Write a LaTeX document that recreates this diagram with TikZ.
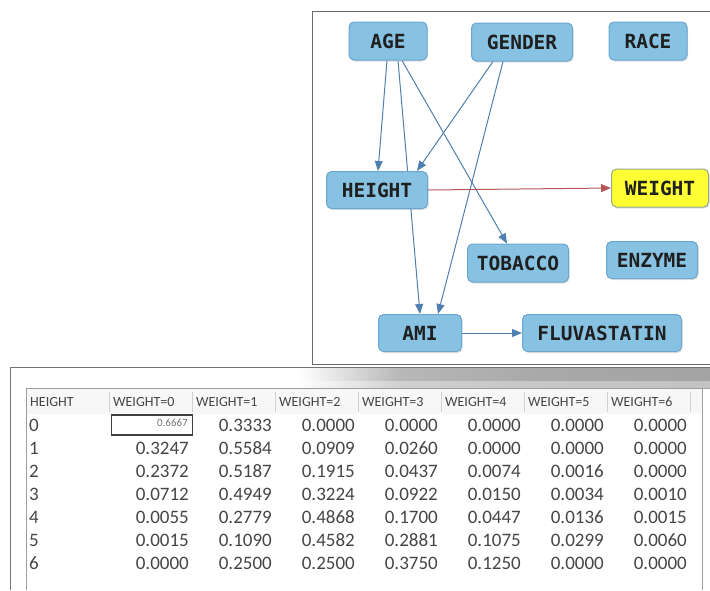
\documentclass[tikz,border=0pt]{standalone}
\usepackage{fontspec}
\usetikzlibrary{arrows.meta,shadows,calc}
\newfontfamily\nodefont{DejaVu Sans Mono}
\newfontfamily\tabfont{Carlito}
\definecolor{nfill}{HTML}{88C2E2}
\definecolor{ndraw}{HTML}{6AA6CF}
\definecolor{edgeblue}{HTML}{4F7FB0}
\definecolor{edgered}{HTML}{B5575A}
\definecolor{yfill}{HTML}{FFFF33}
\definecolor{ydraw}{HTML}{9AA88A}
\definecolor{tabtext}{HTML}{454545}
\definecolor{panelline}{HTML}{6A6A6A}
\pgfdeclarehorizontalshading{bandsh}{100bp}{color(0bp)=(white); color(26bp)=(white); color(38bp)=(black!28); color(55bp)=(black!34); color(75bp)=(black!36); color(100bp)=(black!36)}
\pgfdeclarelayer{bg}
\pgfsetlayers{bg,main}
\begin{document}
\begin{tikzpicture}[x=1pt,y=-1pt,
  var/.style={draw=ndraw, fill=nfill, line width=1pt, rounded corners=5pt,
    minimum height=38pt, inner sep=0pt,
    font=\nodefont\bfseries\fontsize{19.5}{19.5}\selectfont, text=black!88,
    drop shadow={shadow xshift=1pt,shadow yshift=-1.5pt,opacity=0.25}},
  target/.style={var, fill=yfill, draw=ydraw},
  link/.style={draw=edgeblue, line width=1pt, -{Triangle[length=10pt,width=8pt]}},
  redlink/.style={link, draw=edgered, -{Triangle[length=10pt,width=8pt,fill=edgered]}},
  hdr/.style={font=\tabfont\fontsize{14}{14}\selectfont, text=tabtext, inner sep=0pt},
  cell/.style={font=\tabfont\fontsize{19}{19}\selectfont, text=tabtext, inner sep=0pt},
  sep/.style={draw=black!18, line width=0.8pt}
]
\useasboundingbox (0,0) rectangle (710,590);

% ---------- top panel ----------
\draw[panelline, line width=1pt] (714,11) -- (312,11) -- (312,364) -- (714,364);

\node[var, minimum width=78pt]  (AGE)    at (388,41)  {AGE};
\node[var, minimum width=101pt] (GENDER) at (522,42)  {GENDER};
\node[var, minimum width=78pt]  (RACE)   at (648,41)  {RACE};
\node[var, minimum width=101pt, minimum height=37pt] (HEIGHT) at (377,190) {HEIGHT};
\node[target, minimum width=97pt] (WEIGHT) at (660,188) {WEIGHT};
\node[var, minimum width=101pt] (TOBACCO) at (518,263) {TOBACCO};
\node[var, minimum width=91pt, minimum height=37pt] (ENZYME) at (652,260) {ENZYME};
\node[var, minimum width=83pt, minimum height=37pt] (AMI) at (420,333) {AMI};
\node[var, minimum width=159pt, minimum height=37pt] (FLUVA) at (602,333) {FLUVASTATIN};

\begin{pgfonlayer}{bg}
  \draw[link] ([xshift=-1pt]AGE.south) -- ([xshift=1pt]HEIGHT.north);
  \draw[link] ([xshift=10pt]AGE.south) -- ([xshift=0pt]AMI.north);
  \draw[link] ([xshift=14pt]AGE.south) -- ([xshift=-11pt]TOBACCO.north);
  \draw[link] ([xshift=-29pt]GENDER.south) -- ([xshift=40pt]HEIGHT.north);
  \draw[link] ([xshift=-19pt]GENDER.south) -- ([xshift=18pt]AMI.north);
  \draw[redlink] (HEIGHT.east) -- (WEIGHT.west);
  \draw[link] (AMI.east) -- (FLUVA.west);
\end{pgfonlayer}

% ---------- table window ----------
\shade[shading=bandsh] (290,368) rectangle (712,388);
\fill[white, opacity=0.35] (290,381) rectangle (712,388);
\draw[black!55, line width=1pt] (10,590) -- (10,367) -- (712,367);
\fill[black!3] (26,388) rectangle (702,414);
\draw[black!38, line width=1pt] (26,590) -- (26,388) -- (702,388) -- (702,590);

\foreach \k in {0,...,7} {
  \draw[sep] (109+83*\k,392) -- (109+83*\k,412);
}
\node[hdr, anchor=west] (hh) at (30,402) {HEIGHT};
\foreach \k in {0,...,6} {
  \node[hdr, anchor=west] (hw\k) at (113+83*\k,402) {WEIGHT=\k};
}

\foreach \row [count=\i from 0] in {
  {0.6667,0.3333,0.0000,0.0000,0.0000,0.0000,0.0000},
  {0.3247,0.5584,0.0909,0.0260,0.0000,0.0000,0.0000},
  {0.2372,0.5187,0.1915,0.0437,0.0074,0.0016,0.0000},
  {0.0712,0.4949,0.3224,0.0922,0.0150,0.0034,0.0010},
  {0.0055,0.2779,0.4868,0.1700,0.0447,0.0136,0.0015},
  {0.0015,0.1090,0.4582,0.2881,0.1075,0.0299,0.0060},
  {0.0000,0.2500,0.2500,0.3750,0.1250,0.0000,0.0000}} {
  \node[cell, anchor=west] (r\i) at (29,425+23*\i) {\i};
  \foreach \v [count=\j from 0] in \row {
    \ifnum\numexpr\i+\j\relax=0
      \node[draw=black!75, line width=1.2pt, minimum width=81pt, minimum height=20pt, inner sep=0pt] (sel) at (152,425) {};
      \node[font=\tabfont\fontsize{11}{11}\selectfont, text=black!55, inner sep=0pt, anchor=east] (n0-0) at (188,423) {\v};
    \else
      \node[cell, anchor=east] (n\i-\j) at (189+83*\j,425+23*\i) {\v};
    \fi
  }
}
\end{tikzpicture}
\end{document}
